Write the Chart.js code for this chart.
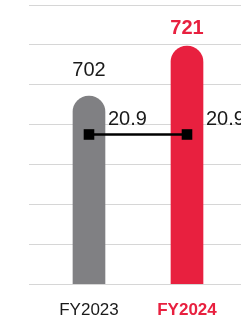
<!DOCTYPE html>
<html>
<head>
<meta charset="utf-8">
<script src="https://cdn.jsdelivr.net/npm/chart.js@4"></script>
<style>
  html, body { margin: 0; padding: 0; background: #fff; overflow: hidden; }
  #chart { display: block; }
</style>
</head>
<body>
<canvas id="chart" width="241" height="323"></canvas>
<script>
'use strict';

/* ── DATA ── */
const categories  = ['FY2023', 'FY2024'];
const salesValues = [702, 721];
const ratioValues = [20.9, 20.9];

/* ── STYLE ── */
const RED   = '#e8203f';
const GREY  = '#808083';
const INK   = '#1a1a1a';
const FONT  = "'Liberation Sans', Arial, sans-serif";
const barColors   = [GREY, RED];
const labelColors = [INK, RED];
const labelWeight = ['normal', 'bold'];
const barLabelLift = [20, 12];

const tickIndex = c => (c && c.tick ? c.tick.value : -1);

/* ── VALUE LABELS ── */
const valueLabels = {
  id: 'valueLabels',
  afterDatasetsDraw(chart) {
    const ctx = chart.ctx;
    ctx.save();
    // bar values above each bar
    chart.getDatasetMeta(0).data.forEach((el, i) => {
      ctx.font = labelWeight[i] + ' 20px ' + FONT;
      ctx.fillStyle = labelColors[i];
      ctx.textAlign = 'center';
      ctx.textBaseline = 'alphabetic';
      ctx.fillText(String(salesValues[i]), el.x, el.y - barLabelLift[i]);
    });
    // ratio values right of each point
    chart.getDatasetMeta(1).data.forEach((el, i) => {
      ctx.font = 'normal 20px ' + FONT;
      ctx.fillStyle = INK;
      ctx.textAlign = 'left';
      ctx.fillText(ratioValues[i].toFixed(1), el.x + 19, el.y - 9);
    });
    ctx.restore();
  }
};

new Chart(document.getElementById('chart'), {
  type: 'bar',
  data: {
    datasets: [
      {
        type: 'bar',
        data: categories.map((c, i) => ({ x: i, y: salesValues[i] })),
        backgroundColor: barColors,
        barThickness: 32,
        borderRadius: 16,
        borderSkipped: false,
        yAxisID: 'y',
        order: 2
      },
      {
        type: 'line',
        data: categories.map((c, i) => ({ x: i, y: ratioValues[i] })),
        borderColor: '#000',
        borderWidth: 2.5,
        pointStyle: 'rect',
        pointRadius: 7.5,
        pointBackgroundColor: '#000',
        pointBorderWidth: 0,
        clip: false,
        yAxisID: 'y2',
        order: 1
      }
    ]
  },
  options: {
    responsive: false,
    devicePixelRatio: 1,
    animation: false,
    layout: { autoPadding: false, padding: { left: 29, right: 0, top: 5, bottom: 0 } },
    plugins: { legend: { display: false }, tooltip: { enabled: false } },
    scales: {
      x: {
        type: 'linear',
        offset: false,
        min: -0.612,
        max: 1.551,
        grid: { display: false, drawTicks: false },
        border: { display: false },
        afterFit: s => { s.height = 39; },
        ticks: {
          stepSize: 1,
          includeBounds: false,
          padding: 16,
          autoSkip: false,
          maxRotation: 0,
          minRotation: 0,
          callback: v => categories[v] ?? '',
          color: c => labelColors[tickIndex(c)] || INK,
          font: c => ({ family: FONT, size: 17, weight: labelWeight[tickIndex(c)] || 'normal' })
        }
      },
      y: {
        min: 630.6,
        max: 736.6,
        grid: { color: '#d6d6d6', lineWidth: 1, drawTicks: false },
        border: { display: false },
        ticks: { display: false, count: 8 }
      },
      y2: { display: false, min: 0, max: 39 }
    }
  },
  plugins: [valueLabels]
});
</script>
</body>
</html>
